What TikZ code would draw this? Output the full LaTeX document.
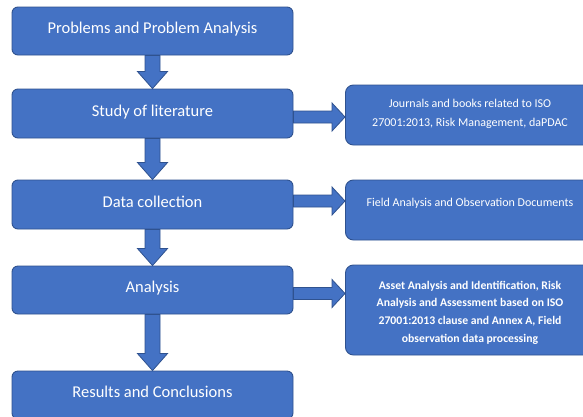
\documentclass[tikz,border=0pt]{standalone}
\usepackage{fontspec}
\setmainfont{Carlito}
\usetikzlibrary{calc}
\definecolor{boxfill}{HTML}{4472C4}
\definecolor{boxline}{HTML}{2F528F}
\tikzset{
  mainbox/.style={draw=boxline, fill=boxfill, line width=0.9pt, rounded corners=6pt,
    minimum width=281pt, minimum height=48pt, text=white, font=\fontsize{16.5pt}{19pt}\selectfont,
    inner sep=0pt, text height=12pt, text depth=7pt},
  sidebox/.style={draw=boxline, fill=boxfill, line width=0.9pt, rounded corners=8pt,
    minimum width=250pt, text=white, inner sep=0pt, anchor=west},
  sidetext/.style={text=white, align=center, font=\fontsize{12pt}{19pt}\selectfont, inner sep=0pt},
  varrow/.style={fill=boxfill, draw=boxline, line width=0.8pt, line join=miter,
    to path={let \p1=(\tikztostart), \p2=(\tikztotarget) in
      (\x1-7.5pt,\y1) -- (\x1-7.5pt,\y2+17pt) -- (\x1-15pt,\y2+17pt) -- (\x1,\y2)
      -- (\x1+15pt,\y2+17pt) -- (\x1+7.5pt,\y2+17pt) -- (\x1+7.5pt,\y1) -- cycle}},
  harrow/.style={fill=boxfill, draw=boxline, line width=0.8pt, line join=miter,
    to path={let \p1=(\tikztostart), \p2=(\tikztotarget) in
      (\x1,\y1+6pt) -- (\x2-13pt,\y1+6pt) -- (\x2-13pt,\y1+14pt) -- (\x2,\y1)
      -- (\x2-13pt,\y1-14pt) -- (\x2-13pt,\y1-6pt) -- (\x1,\y1-6pt) -- cycle}},
}
\begin{document}
\begin{tikzpicture}[x=1pt,y=-1pt]
\useasboundingbox (0,0) rectangle (583,416);
\clip (0,0) rectangle (583,416);
\fill[white] (0,0) rectangle (583,416);
% main column
\node[mainbox] (b1) at (152.5,31) {Problems and Problem Analysis};
\node[mainbox, minimum height=49pt] (b2) at (152.5,113.5) {Study of literature};
\node[mainbox, minimum height=49pt] (b3) at (152.5,204.5) {Data collection};
\node[mainbox] (b4) at (152.5,290) {Analysis};
\node[mainbox] (b5) at (152.5,395) {Results and Conclusions};
% side boxes
\node[sidebox, minimum height=60pt] (s1) at (345,115) {};
\node[sidebox, minimum height=60pt] (s2) at (345,210) {};
\node[sidebox, minimum height=90pt] (s3) at (345,310) {};
\node[sidetext] (t1) at (470,113.5) {Journals and books related to ISO\\27001:2013, Risk Management, daPDAC};
\node[sidetext] (t2) at (470,203) {Field Analysis and Observation Documents};
\node[sidetext, font=\bfseries\fontsize{11.7pt}{17.7pt}\selectfont] (t3) at (470,312.5) {Asset Analysis and Identification, Risk\\Analysis and Assessment based on ISO\\27001:2013 clause and Annex A, Field\\observation data processing};
% vertical arrows
\draw[varrow] (b1.south) to (b2.north);
\draw[varrow] (b2.south) to (b3.north);
\draw[varrow] (b3.south) to (b4.north);
\draw[varrow] (b4.south) to (b5.north);
% horizontal arrows
\coordinate (h1) at ($(b2.east)+(0,3.5)$);
\coordinate (h2) at ($(b3.east)+(0,-3.5)$);
\coordinate (h3) at ($(b4.east)+(0,3.5)$);
\draw[harrow] (h1) to (s1.west);
\draw[harrow] (h2) to (s2.west);
\draw[harrow] (h3) to (s3.west);
\end{tikzpicture}
\end{document}
